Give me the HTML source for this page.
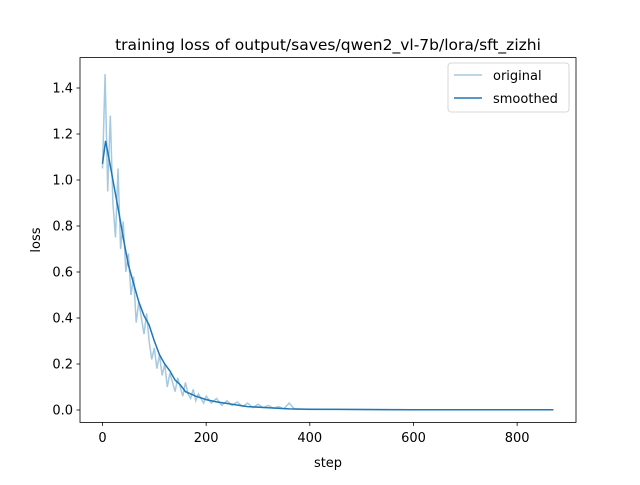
<!DOCTYPE html>
<html><head><meta charset="utf-8"><style>
body{margin:0;background:#fff;}
text{font-family:"DejaVu Sans","Liberation Sans",sans-serif;fill:#000;}
</style></head><body>
<svg width="640" height="480" xmlns="http://www.w3.org/2000/svg">
<rect width="640" height="480" fill="#fff"/>
<text x="328" y="50" font-size="15.5" text-anchor="middle">training loss of output/saves/qwen2_vl-7b/lora/sft_zizhi</text>
<g id="plot"></g>
<rect x="80" y="57.6" width="496" height="364.8" fill="none" stroke="#000" stroke-width="0.8"/>
<g id="xt"></g><g id="yt"></g>
<text x="328" y="467" font-size="13" text-anchor="middle">step</text>
<text transform="translate(40,240) rotate(-90)" font-size="13" text-anchor="middle">loss</text>
<g>
<rect x="448" y="63" width="121" height="49" rx="3" fill="#fff" stroke="#ccc" stroke-width="0.8"/>
<g>
<line x1="454" y1="75" x2="482" y2="75" stroke="#1f77b4" stroke-opacity="0.4" stroke-width="1.5"/>
<text x="493" y="80" font-size="13">original</text></g>
<g>
<line x1="454" y1="98" x2="482" y2="98" stroke="#1f77b4" stroke-width="1.5"/>
<text x="493" y="103" font-size="13">smoothed</text></g>
</g>
</svg>
<script>
const origSteps=[0,5,10,15,20,25,30,35,40,45,50,55,60,65,70,75,80,85,90,95,100,105,110,115,120,125,130,135,140,145,150,155,160,165,170,175,180,185,190,195,200,210,220,230,240,250,260,270,280,290,300,310,320,330,340,350,360,370,380,400,450,500,600,700,800,870];
const origLoss=[1.05,1.46,0.95,1.28,0.9,0.75,1.05,0.7,0.82,0.6,0.68,0.5,0.58,0.38,0.47,0.4,0.33,0.42,0.3,0.22,0.27,0.18,0.24,0.15,0.2,0.1,0.16,0.12,0.08,0.14,0.1,0.06,0.12,0.07,0.05,0.09,0.04,0.07,0.05,0.03,0.06,0.03,0.05,0.02,0.04,0.02,0.035,0.015,0.03,0.01,0.025,0.01,0.02,0.008,0.015,0.005,0.03,0.005,0.003,0.002,0.003,0.002,0.001,0.001,0.001,0.001];
const smSteps=[0,6,12,20,30,40,50,60,70,80,90,100,110,120,130,140,150,160,180,200,220,250,280,320,360,400,500,600,870];
const smLoss=[1.07,1.17,1.1,1.0,0.88,0.75,0.63,0.55,0.47,0.41,0.37,0.3,0.24,0.2,0.17,0.13,0.11,0.08,0.06,0.045,0.035,0.025,0.015,0.01,0.005,0.003,0.002,0.001,0.001];
const xTicks=[0,200,400,600,800];
const yTicks=[0,0.2,0.4,0.6,0.8,1.0,1.2,1.4];
const NS="http://www.w3.org/2000/svg";
const X=s=>102.5+s*0.5183;
const Y=v=>410-v*230;
const plot=document.getElementById('plot');
function line(xs,ys,op,name){
 const p=document.createElementNS(NS,'polyline');
 p.setAttribute('points',xs.map((s,i)=>X(s).toFixed(1)+','+Y(ys[i]).toFixed(1)).join(' '));
 p.setAttribute('fill','none');p.setAttribute('stroke','#1f77b4');p.setAttribute('stroke-width','1.5');
 p.setAttribute('stroke-opacity',op);
 
 
 plot.appendChild(p);
}
line(origSteps,origLoss,0.4,'original-line');
line(smSteps,smLoss,1,'smoothed-line');
const xt=document.getElementById('xt');
xTicks.forEach(t=>{
 const g=document.createElementNS(NS,'g');
 
 
 g.innerHTML=`<line x1="${X(t)}" y1="422.4" x2="${X(t)}" y2="425.9" stroke="#000" stroke-width="0.8"/><text x="${X(t)}" y="442" font-size="13" text-anchor="middle">${t}</text>`;
 xt.appendChild(g);
});
const yt=document.getElementById('yt');
yTicks.forEach(t=>{
 const g=document.createElementNS(NS,'g');
 
 
 g.innerHTML=`<line x1="76.5" y1="${Y(t)}" x2="80" y2="${Y(t)}" stroke="#000" stroke-width="0.8"/><text x="73" y="${Y(t)+4.5}" font-size="13" text-anchor="end">${t.toFixed(1)}</text>`;
 yt.appendChild(g);
});
</script>
</body></html>
